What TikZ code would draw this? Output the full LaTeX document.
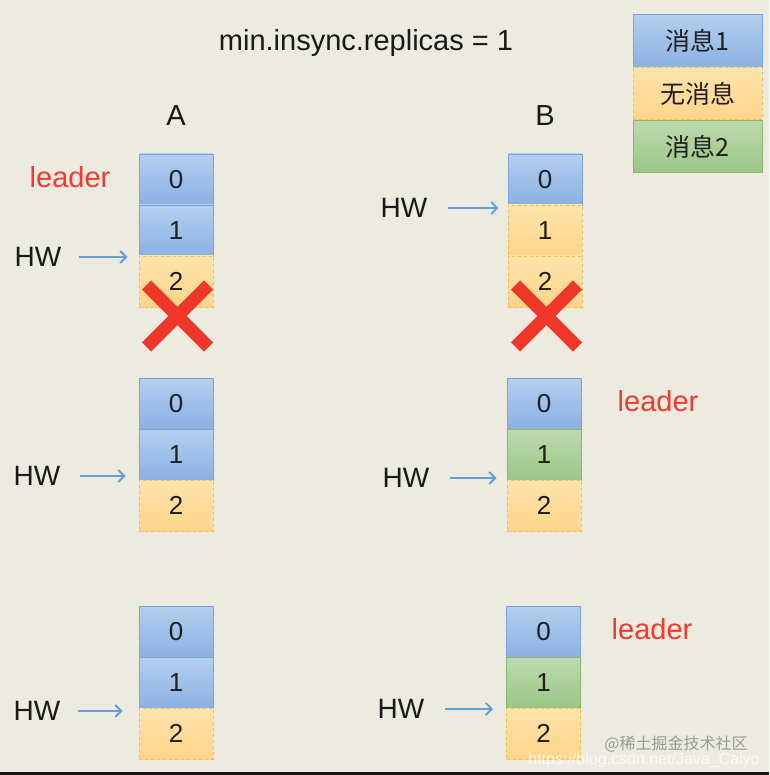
\documentclass[tikz,border=0pt]{standalone}
\usepackage{fontspec}
\setmainfont{Liberation Sans}
\newfontfamily\cjkfont{Noto Sans CJK SC}
\usetikzlibrary{arrows.meta}
\definecolor{bgcol}{HTML}{EDEAE0}
\definecolor{bluetop}{HTML}{B4CFEF}
\definecolor{bluebot}{HTML}{8BB1E2}
\definecolor{blueedge}{HTML}{7AA3D8}
\definecolor{orgtop}{HTML}{FFE4AD}
\definecolor{orgbot}{HTML}{FFD488}
\definecolor{orgedge}{HTML}{F3C04E}
\definecolor{grntop}{HTML}{BEDAAF}
\definecolor{grnbot}{HTML}{9BC685}
\definecolor{grnedge}{HTML}{86B56C}
\definecolor{arrowblue}{HTML}{62A0D8}
\definecolor{leaderred}{HTML}{F23A2E}
\definecolor{crossred}{HTML}{F0382A}
\begin{document}
\begin{tikzpicture}[x=1pt,y=-1pt,
  cell/.style={rectangle,minimum width=74pt,minimum height=51pt,inner sep=0pt,
    font=\fontsize{26}{26}\selectfont,text=black!88},
  blu/.style={cell,draw=blueedge,line width=0.8pt,top color=bluetop,bottom color=bluebot},
  org/.style={cell,draw=orgedge,line width=0.9pt,dashed,top color=orgtop,bottom color=orgbot},
  grn/.style={cell,draw=grnedge,line width=0.8pt,top color=grntop,bottom color=grnbot},
  lgd/.style={minimum width=129pt,minimum height=52.7pt,font=\cjkfont\fontsize{25}{25}\selectfont},
  hw/.style={inner sep=0pt,font=\fontsize{28}{28}\selectfont,text=black!90},
  leader/.style={inner sep=0pt,font=\fontsize{29}{29}\selectfont,text=leaderred},
  col/.style={inner sep=0pt,font=\fontsize{29}{29}\selectfont,text=black!90},
  hwarrow/.style={draw=arrowblue,line width=2pt,-{Straight Barb[length=6pt,width=12pt]}},
  cross/.style={draw=crossred,line width=13pt,line cap=butt}
]
\useasboundingbox (0,0) rectangle (769,775);
\fill[bgcol] (0,0) rectangle (769,775);
\fill[black!92] (0,772) rectangle (769,775);

% title and column labels
\node[col] (title) at (366,43) {min.insync.replicas = 1};
\node[col] (colA) at (176,116) {A};
\node[col] (colB) at (545,116) {B};

% legend
\node[blu,lgd] (lg1) at (697.5,41) {消息1};
\node[org,lgd] (lg2) at (697.5,93.5) {无消息};
\node[grn,lgd] (lg3) at (697.5,146.5) {消息2};

% group 1, A
\node[blu] (a1c0) at (176,179.5) {0};
\node[blu] (a1c1) at (176,230.5) {1};
\node[org] (a1c2) at (176,281.5) {2};
% group 1, B
\node[blu] (b1c0) at (545,179.5) {0};
\node[org] (b1c1) at (545,230.5) {1};
\node[org] (b1c2) at (545,281.5) {2};

% crosses
\draw[cross] (146.5,285) -- (208.5,347);
\draw[cross] (208.5,285) -- (146.5,347);
\draw[cross] (515.5,285) -- (577.5,347);
\draw[cross] (577.5,285) -- (515.5,347);

% group 2, A
\node[blu] (a2c0) at (176,403.5) {0};
\node[blu] (a2c1) at (176,454.5) {1};
\node[org] (a2c2) at (176,505.5) {2};
% group 2, B
\node[blu] (b2c0) at (544,403.5) {0};
\node[grn] (b2c1) at (544,454.5) {1};
\node[org] (b2c2) at (544,505.5) {2};

% group 3, A
\node[blu] (a3c0) at (176,631.5) {0};
\node[blu] (a3c1) at (176,682.5) {1};
\node[org] (a3c2) at (176,733.5) {2};
% group 3, B
\node[blu] (b3c0) at (543.5,631.5) {0};
\node[grn] (b3c1) at (543.5,682.5) {1};
\node[org] (b3c2) at (543.5,733.5) {2};

% leader labels
\node[leader] (ld1) at (70,177) {leader};
\node[leader] (ld2) at (658,401) {leader};
\node[leader] (ld3) at (652,629) {leader};

% HW labels and arrows
\node[hw] (hwa1) at (38,257) {HW};
\draw[hwarrow] ([xshift=17pt]hwa1.east) -- ([xshift=-11pt]hwa1.east -| a1c1.west);
\node[hw] (hwb1) at (404,208) {HW};
\draw[hwarrow] ([xshift=20pt]hwb1.east) -- ([xshift=-9pt]hwb1.east -| b1c0.west);
\node[hw] (hwa2) at (37,476) {HW};
\draw[hwarrow] ([xshift=19pt]hwa2.east) -- ([xshift=-13pt]hwa2.east -| a2c1.west);
\node[hw] (hwb2) at (406,478) {HW};
\draw[hwarrow] ([xshift=20pt]hwb2.east) -- ([xshift=-10pt]hwb2.east -| b2c1.west);
\node[hw] (hwa3) at (37,711) {HW};
\draw[hwarrow] ([xshift=17pt]hwa3.east) -- ([xshift=-16pt]hwa3.east -| a3c1.west);
\node[hw] (hwb3) at (401,709) {HW};
\draw[hwarrow] ([xshift=20pt]hwb3.east) -- ([xshift=-13pt]hwb3.east -| b3c1.west);

% watermark
\node[inner sep=0pt,text=black!40,font=\cjkfont\fontsize{16}{16}\selectfont] (wm1) at (676,744) {@稀土掘金技术社区};
\node[inner sep=0pt,text=white,opacity=0.75,font=\fontsize{16}{16}\selectfont] (wm2) at (644,760) {https://blog.csdn.net/Java\_Caiyo};
\end{tikzpicture}
\end{document}
